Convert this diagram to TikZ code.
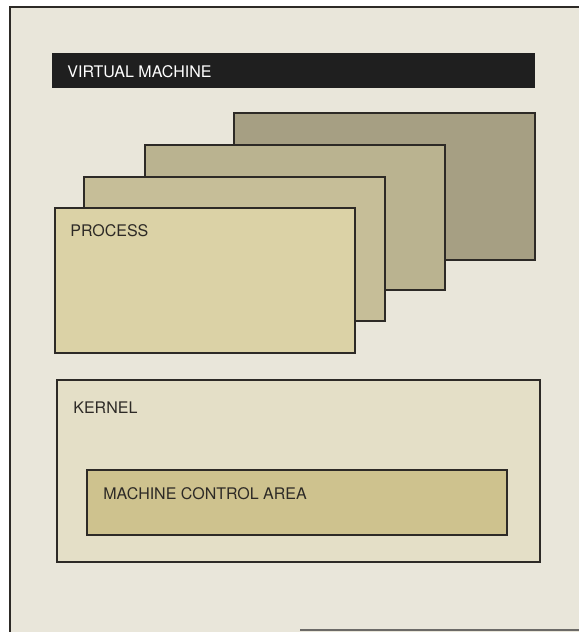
\documentclass[tikz,border=0pt]{standalone}
\usepackage{fontspec}
\setmainfont{TeX Gyre Heros}
\definecolor{paper}{RGB}{233,230,218}
\definecolor{procA}{RGB}{219,210,166}
\definecolor{procB}{RGB}{198,190,152}
\definecolor{procC}{RGB}{186,179,144}
\definecolor{procD}{RGB}{166,159,131}
\definecolor{kernelfill}{RGB}{228,223,199}
\definecolor{mcafill}{RGB}{206,194,142}
\definecolor{ink}{RGB}{45,42,38}
\tikzset{
  box/.style={draw=ink, line width=0.6pt},
  lbl/.style={anchor=west, inner sep=0pt, text=ink, font=\fontsize{8}{10}\selectfont}
}
\begin{document}
\begin{tikzpicture}[x=0.5pt,y=-0.5pt]
  \useasboundingbox (0,0) rectangle (579,632);
  \fill[white] (0,0) rectangle (579,632);
  \fill[paper] (10,7) rectangle (579,632);
  \draw[ink, line width=0.8pt] (10,632) -- (10,7) -- (579,7);
  \draw[ink!70, line width=1pt] (300,630) -- (579,630);
  \fill[black!88] (52,53) rectangle (535,88);
  \node[lbl, text=white] (vm) at (67,72) {VIRTUAL MACHINE};
  \draw[box, fill=procD] (234,113) rectangle (535,260);
  \draw[box, fill=procC] (145,145) rectangle (445,290);
  \draw[box, fill=procB] (84,177) rectangle (385,321);
  \draw[box, fill=procA] (55,208) rectangle (355,353);
  \node[lbl] (process) at (70,231) {PROCESS};
  \draw[box, fill=kernelfill] (57,380) rectangle (540,562);
  \node[lbl] (kernel) at (73,408) {KERNEL};
  \draw[box, fill=mcafill] (87,470) rectangle (507,535);
  \node[lbl] (mca) at (103,494) {MACHINE CONTROL AREA};
\end{tikzpicture}
\end{document}
